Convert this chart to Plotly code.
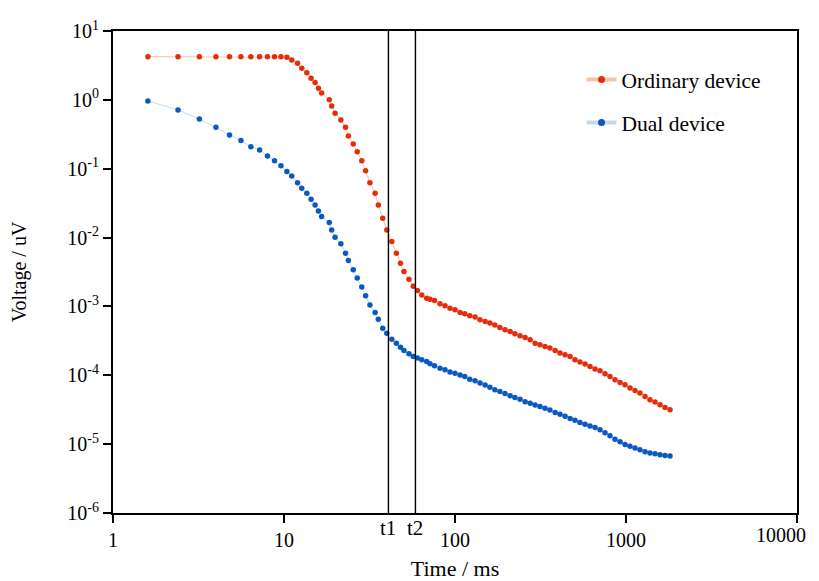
import math
import plotly.graph_objects as go

time_ms = [1.6, 2.4, 3.2, 4.0, 4.8, 5.6, 6.4, 7.2, 8.0, 8.8, 9.6, 10.4, 11.1, 12.0, 12.7,
           13.6, 14.4, 15.2, 15.9, 16.6, 18.4, 19.0, 19.9, 21.5, 22.9, 23.8, 25.4, 26.8,
           28.5, 30.0, 31.8, 34.1, 35.6, 37.8, 39.9, 42.7, 45.4, 48.0, 50.3, 53.8, 57.0,
           60.3, 63.9, 68.3, 71.4, 75.9, 81.7,
           87.4, 93.5, 100, 107, 114, 122, 131, 140, 150, 160, 171, 183, 196, 210, 224,
           240, 257, 275, 294, 314, 336, 359, 385, 411, 440, 471, 503, 538, 576, 616,
           659, 705, 754, 806, 862, 923, 987, 1055, 1129, 1207, 1292, 1381, 1478, 1581,
           1691, 1809]

ordinary = [4.24, 4.24, 4.24, 4.24, 4.24, 4.24, 4.24, 4.24, 4.24, 4.24, 4.24, 4.15, 3.79,
            3.40, 2.87, 2.48, 2.06, 1.78, 1.47, 1.26, 1.0, 0.815, 0.639, 0.511, 0.400,
            0.299, 0.229, 0.177, 0.131, 0.0938, 0.0628, 0.0441, 0.0298, 0.0191, 0.0129,
            0.00875, 0.00594, 0.00425, 0.00321, 0.00249, 0.00197, 0.00170, 0.00147,
            0.00132, 0.00127, 0.00122, 0.00109,
            1.02e-3, 9.44e-4, 8.93e-4, 8.16e-4, 7.82e-4, 7.31e-4, 7.00e-4, 6.40e-4,
            6.04e-4, 5.73e-4, 5.36e-4, 4.94e-4, 4.57e-4, 4.32e-4, 4.00e-4, 3.74e-4,
            3.54e-4, 3.27e-4, 2.93e-4, 2.77e-4, 2.62e-4, 2.48e-4, 2.29e-4, 2.10e-4,
            1.99e-4, 1.87e-4, 1.68e-4, 1.56e-4, 1.46e-4, 1.34e-4, 1.23e-4, 1.16e-4,
            1.05e-4, 9.6e-5, 8.6e-5, 7.86e-5, 7.28e-5, 6.52e-5, 6.01e-5, 5.52e-5,
            4.92e-5, 4.41e-5, 4.08e-5, 3.73e-5, 3.41e-5, 3.15e-5]

dual = [0.964, 0.713, 0.528, 0.400, 0.310, 0.256, 0.209, 0.187, 0.153, 0.131, 0.110,
        0.0908, 0.0787, 0.0628, 0.0521, 0.0441, 0.0361, 0.0298, 0.0244, 0.0202, 0.0165,
        0.0129, 0.0101, 0.00811, 0.00594, 0.00464, 0.00340, 0.00258, 0.00191, 0.00143,
        0.00105, 0.000815, 0.000654, 0.000484, 0.000409, 0.000335, 0.000293, 0.000256,
        0.000229, 0.000205, 0.000187, 0.000178, 0.000168, 0.000158, 0.000147, 0.000137,
        0.000127,
        1.20e-4, 1.12e-4, 1.07e-4, 1.01e-4, 9.6e-5, 8.75e-5, 8.32e-5, 7.71e-5, 7.21e-5,
        6.70e-5, 6.16e-5, 5.82e-5, 5.44e-5, 5.04e-5, 4.74e-5, 4.49e-5, 4.12e-5, 3.91e-5,
        3.71e-5, 3.52e-5, 3.32e-5, 3.12e-5, 2.88e-5, 2.72e-5, 2.54e-5, 2.36e-5, 2.22e-5,
        2.07e-5, 1.94e-5, 1.84e-5, 1.74e-5, 1.62e-5, 1.46e-5, 1.32e-5, 1.18e-5, 1.08e-5,
        9.9e-6, 9.3e-6, 8.77e-6, 8.3e-6, 7.76e-6, 7.43e-6, 7.26e-6, 7.02e-6, 6.86e-6,
        6.72e-6]

series_names = ["Ordinary device", "Dual device"]
x_tick_vals = [1, 10, 100, 1000, 10000]
x_tick_text = ["1", "10", "100", "1000", "10000"]
y_exponents = [1, 0, -1, -2, -3, -4, -5, -6]
marker_times = {"t1": 40.8, "t2": 58.7}

RED = "#e52d0c"
BLUE = "#0b58c2"
RED_LIGHT = "#f7c3a6"
BLUE_LIGHT = "#c4d9f1"
FONT = "Liberation Serif, Times New Roman, serif"

fig = go.Figure()
for vals, name, c, lc in [(ordinary, series_names[0], RED, RED_LIGHT),
                          (dual, series_names[1], BLUE, BLUE_LIGHT)]:
    fig.add_trace(go.Scatter(x=time_ms, y=vals, mode="lines+markers", showlegend=False,
                             line=dict(color=lc, width=1),
                             marker=dict(color=c, size=5.5)))
for name, c, lc in [(series_names[0], RED, RED_LIGHT), (series_names[1], BLUE, BLUE_LIGHT)]:
    fig.add_trace(go.Scatter(x=[None], y=[None], mode="lines+markers", name=name,
                             legendgroup=name,
                             line=dict(color=lc, width=4),
                             marker=dict(color=c, size=7)))

for lbl, tv in marker_times.items():
    fig.add_shape(type="line", xref="x", yref="paper", x0=tv, x1=tv, y0=0, y1=1,
                  line=dict(color="black", width=1.4))
    fig.add_annotation(x=math.log10(tv), xref="x", y=0, yref="paper", text=lbl,
                       showarrow=False, yanchor="top", yshift=-1,
                       font=dict(family=FONT, size=21, color="black"))

# last x tick label drawn as annotation so it can sit inside the figure edge
fig.add_annotation(x=math.log10(x_tick_vals[-1]), xref="x", y=0, yref="paper",
                   text=x_tick_text[-1], showarrow=False, xanchor="right", yanchor="top",
                   xshift=11, yshift=-9, font=dict(family=FONT, size=20, color="black"))

fig.update_xaxes(type="log", range=[0, 4], tickvals=x_tick_vals,
                 ticktext=x_tick_text[:-1] + [""],
                 ticks="outside", ticklen=8, tickwidth=2, tickcolor="black",
                 showline=True, linecolor="black", linewidth=2, mirror=True,
                 showgrid=False, zeroline=False, automargin=False,
                 tickfont=dict(family=FONT, size=20, color="black"),
                 title=dict(text="Time / ms", standoff=24,
                            font=dict(family=FONT, size=22, color="black")))
fig.update_yaxes(type="log", range=[-6, 1],
                 tickvals=[10.0 ** e for e in y_exponents],
                 ticktext=["10<sup>%d</sup>" % e for e in y_exponents],
                 ticks="outside", ticklen=8, tickwidth=2, tickcolor="black",
                 showline=True, linecolor="black", linewidth=2, mirror=True,
                 showgrid=False, zeroline=False, automargin=False,
                 tickfont=dict(family=FONT, size=20, color="black"),
                 title=dict(text="Voltage / uV", standoff=42,
                            font=dict(family=FONT, size=20, color="black")))

fig.update_layout(width=811, height=573, margin=dict(l=105, r=22, t=23, b=68),
                  paper_bgcolor="white", plot_bgcolor="white",
                  legend=dict(x=0.685, y=0.942, xanchor="left", yanchor="top",
                              traceorder="grouped", tracegroupgap=12,
                              bgcolor="rgba(0,0,0,0)",
                              font=dict(family=FONT, size=21.5, color="black")))

fig.write_html("out.html")
